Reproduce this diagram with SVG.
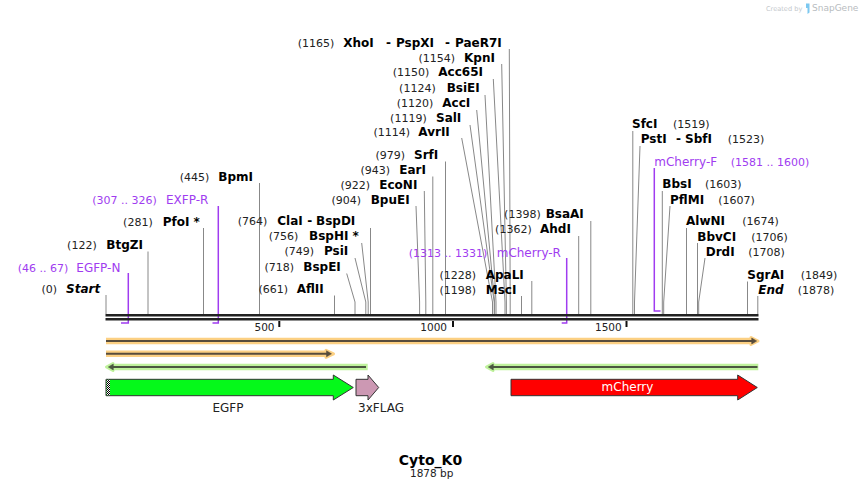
<svg xmlns="http://www.w3.org/2000/svg" width="864" height="490" viewBox="0 0 864 490">
<defs>
<style>
text{font-family:"DejaVu Sans",Verdana,sans-serif}
.n{font-size:11px;fill:#222;text-anchor:end}
.ns{font-size:11px;fill:#222}
.e{font-size:12px;font-weight:bold;fill:#000}
.i{font-style:italic}
.p{font-size:12px;fill:#a03cf0}
.pn{font-size:11px;fill:#a03cf0;text-anchor:end}
.pns{font-size:11px;fill:#a03cf0}
.cut{stroke:#888;stroke-width:1;fill:none}
.pr{stroke:#a03cf0;stroke-width:1.5;fill:none}
.bb{stroke:#222;stroke-width:2.5}
.tick{stroke:#111;stroke-width:2}
.tl{font-size:10.5px;fill:#222;text-anchor:end}
.hlo{stroke:#fcd083;fill:#fcd083}
.hlg{stroke:#bff29c;fill:#bff29c}
.dk{stroke:#574c3c;fill:#574c3c}
.dkg{stroke:#4b5740;fill:#4b5740}
.feat{stroke:#333;stroke-width:1}
.fl{font-size:12px;fill:#222;text-anchor:middle}
</style>
<pattern id="hatch" width="2" height="2" patternUnits="userSpaceOnUse">
<rect width="2" height="2" fill="#fff"/>
<rect width="1" height="1" fill="#000"/>
<rect x="1" y="1" width="1" height="1" fill="#000"/>
</pattern>
</defs>
<rect width="864" height="490" fill="#fff"/>

<g id="watermark">
<text x="766" y="10.5" style="font-size:6.6px;fill:#c4c8cc">Created by</text>
<path d="M806,3.5 h3.5 v9 l-2,1.5 v-6 h-1.5 z" fill="#7cc8f0"/>
<text x="812" y="11" style="font-size:9px;fill:#b8bcc0">SnapGene</text>
</g>

<g id="connectors">
<path class="cut" d="M106,295 V314"/>
<path class="cut" d="M148,251.5 V314"/>
<path class="cut" d="M203.5,228 V314"/>
<path class="cut" d="M259.5,183 V314"/>
<path class="cut" d="M334.5,295.5 V314"/>
<path class="cut" d="M346.7,273.5 L355,302 V314"/>
<path class="cut" d="M355,258 L365.8,302 V314"/>
<path class="cut" d="M361.7,243 L368.2,302 V314"/>
<path class="cut" d="M370.5,228 V314"/>
<path class="cut" d="M416,206 L419.6,302 V314"/>
<path class="cut" d="M424.3,191 L425.8,302 V314"/>
<path class="cut" d="M432.8,176.5 V314"/>
<path class="cut" d="M445.5,161.5 V314"/>
<path class="cut" d="M461.7,138 L492.5,302 V314"/>
<path class="cut" d="M470,125 L494.2,302 V314"/>
<path class="cut" d="M476.7,110 L494.6,302 V314"/>
<path class="cut" d="M485,95 L496,302 V314"/>
<path class="cut" d="M493.3,79 L505,302 V314"/>
<path class="cut" d="M501.7,64 L506.4,302 V314"/>
<path class="cut" d="M509.3,49 L510.2,302 V314"/>
<path class="cut" d="M521.5,296 V314"/>
<path class="cut" d="M531.8,281 V314"/>
<path class="cut" d="M578.7,236 V314"/>
<path class="cut" d="M590.8,221 V314"/>
<path class="cut" d="M632.8,131 V314"/>
<path class="cut" d="M640,146 L634.5,302 V314"/>
<path class="cut" d="M662.3,191 V314"/>
<path class="cut" d="M670,206 L663.7,302 V314"/>
<path class="cut" d="M686.5,228 V314"/>
<path class="cut" d="M697.5,243 V314"/>
<path class="cut" d="M705,258 L698.7,302 V314"/>
<path class="cut" d="M747.5,281.5 V314"/>
<path class="cut" d="M757.8,296 V314"/>
<path class="pr" d="M128.3,273 V323 H121"/>
<path class="pr" d="M218.3,206 V323 H212.5"/>
<path class="pr" d="M566.7,258 V323 H561.7"/>
<path class="pr" d="M654.3,168 V311 H660.5"/>
</g>

<g id="backbone">
<line class="bb" x1="105.5" y1="315.3" x2="758.5" y2="315.3"/>
<line class="bb" x1="105.5" y1="319.3" x2="758.5" y2="319.3"/>
<line class="tick" x1="279.3" y1="321" x2="279.3" y2="327"/>
<line class="tick" x1="453" y1="321" x2="453" y2="327"/>
<line class="tick" x1="626.5" y1="321" x2="626.5" y2="327"/>
<text class="tl" x="274.5" y="331">500</text>
<text class="tl" x="447" y="331">1000</text>
<text class="tl" x="621.7" y="331">1500</text>
</g>

<g id="site-Start"><text class="ns" x="57" y="293.3" text-anchor="end">(0)</text><text class="e i" x="66" y="293.3">Start</text></g>
<g id="primer-EGFP-N"><text class="pn" x="68.3" y="271.7">(46 .. 67)</text><text class="p" x="76.3" y="271.7">EGFP-N</text></g>
<g id="site-BtgZI"><text class="n" x="96.7" y="249">(122)</text><text class="e" x="106.3" y="249">BtgZI</text></g>
<g id="site-PfoI"><text class="n" x="152.7" y="225.7">(281)</text><text class="e" x="162.7" y="225.7">PfoI *</text></g>
<g id="primer-EXFP-R"><text class="pn" x="156.7" y="204">(307 .. 326)</text><text class="p" x="166" y="204">EXFP-R</text></g>
<g id="site-BpmI"><text class="n" x="209.3" y="181">(445)</text><text class="e" x="218.3" y="181">BpmI</text></g>
<g id="site-AflII"><text class="n" x="288" y="293.3">(661)</text><text class="e" x="296.7" y="293.3">AflII</text></g>
<g id="site-BspEI"><text class="n" x="294" y="270.7">(718)</text><text class="e" x="303.3" y="270.7">BspEI</text></g>
<g id="site-PsiI"><text class="n" x="314" y="255.3">(749)</text><text class="e" x="324" y="255.3">PsiI</text></g>
<g id="site-BspHI"><text class="n" x="298.3" y="240.3">(756)</text><text class="e" x="309" y="240.3">BspHI *</text></g>
<g id="site-ClaI"><text class="n" x="267.3" y="225.3">(764)</text><text class="e" x="277.3" y="225.3">ClaI</text><text class="e" x="307.3" y="225.3">-</text><text class="e" x="316" y="225.3">BspDI</text></g>
<g id="site-BpuEI"><text class="n" x="361" y="204">(904)</text><text class="e" x="370.7" y="204">BpuEI</text></g>
<g id="site-EcoNI"><text class="n" x="370" y="189">(922)</text><text class="e" x="379.3" y="189">EcoNI</text></g>
<g id="site-EarI"><text class="n" x="390" y="174">(943)</text><text class="e" x="399.3" y="174">EarI</text></g>
<g id="site-SrfI"><text class="n" x="405" y="159">(979)</text><text class="e" x="414" y="159">SrfI</text></g>
<g id="site-AvrII"><text class="n" x="410" y="135.5">(1114)</text><text class="e" x="418.3" y="135.5">AvrII</text></g>
<g id="site-SalI"><text class="n" x="426.7" y="121.5">(1119)</text><text class="e" x="436" y="121.5">SalI</text></g>
<g id="site-AccI"><text class="n" x="433.3" y="106.5">(1120)</text><text class="e" x="442.3" y="106.5">AccI</text></g>
<g id="site-BsiEI"><text class="n" x="435.7" y="91.5">(1124)</text><text class="e" x="446.7" y="91.5">BsiEI</text></g>
<g id="site-Acc65I"><text class="n" x="429.3" y="76">(1150)</text><text class="e" x="438.3" y="76">Acc65I</text></g>
<g id="site-KpnI"><text class="n" x="455" y="61.5">(1154)</text><text class="e" x="464" y="61.5">KpnI</text></g>
<g id="site-XhoI"><text class="n" x="334.3" y="46.5">(1165)</text><text class="e" x="343.3" y="46.5">XhoI</text><text class="e" x="386" y="46.5">-</text><text class="e" x="396" y="46.5">PspXI</text><text class="e" x="445" y="46.5">-</text><text class="e" x="455" y="46.5">PaeR7I</text></g>
<g id="site-MscI"><text class="n" x="476" y="294">(1198)</text><text class="e" x="485.7" y="294">MscI</text></g>
<g id="site-ApaLI"><text class="n" x="476" y="279">(1228)</text><text class="e" x="485.7" y="279">ApaLI</text></g>
<g id="primer-mCherry-R"><text class="pn" x="487.3" y="256.5">(1313 .. 1331)</text><text class="p" x="496.7" y="256.5">mCherry-R</text></g>
<g id="site-AhdI"><text class="n" x="531.7" y="233.3">(1362)</text><text class="e" x="540" y="233.3">AhdI</text></g>
<g id="site-BsaAI"><text class="n" x="540.7" y="218.3">(1398)</text><text class="e" x="545.7" y="218.3">BsaAI</text></g>
<g id="site-SfcI"><text class="e" x="632" y="128.3">SfcI</text><text class="ns" x="673" y="128.3">(1519)</text></g>
<g id="site-PstI"><text class="e" x="640.7" y="143.3">PstI</text><text class="e" x="676" y="143.3">-</text><text class="e" x="685" y="143.3">SbfI</text><text class="ns" x="727.7" y="143.3">(1523)</text></g>
<g id="primer-mCherry-F"><text class="p" x="654.3" y="166">mCherry-F</text><text class="pns" x="730.7" y="166">(1581 .. 1600)</text></g>
<g id="site-BbsI"><text class="e" x="662.3" y="188.3">BbsI</text><text class="ns" x="705" y="188.3">(1603)</text></g>
<g id="site-PflMI"><text class="e" x="670" y="204">PflMI</text><text class="ns" x="718.3" y="204">(1607)</text></g>
<g id="site-AlwNI"><text class="e" x="686" y="225">AlwNI</text><text class="ns" x="742.3" y="225">(1674)</text></g>
<g id="site-BbvCI"><text class="e" x="697.3" y="240.7">BbvCI</text><text class="ns" x="751.3" y="240.7">(1706)</text></g>
<g id="site-DrdI"><text class="e" x="705.7" y="255.7">DrdI</text><text class="ns" x="748.3" y="255.7">(1708)</text></g>
<g id="site-SgrAI"><text class="e" x="747.3" y="279">SgrAI</text><text class="ns" x="800.7" y="279">(1849)</text></g>
<g id="site-End"><text class="e i" x="758.3" y="294">End</text><text class="ns" x="797.7" y="294">(1878)</text></g>

<g id="orf-long">
<path class="hlo" d="M106,341 H753" stroke-width="6.6"/>
<polygon class="hlo" points="751,337.5 758,341 751,344.5" stroke-width="3" stroke-linejoin="round"/>
<path class="dk" d="M106,341 H752" stroke-width="2"/>
<polygon class="dk" points="751.7,338 756.7,341 751.7,344" stroke-width="0.5"/>
</g>
<g id="orf-short">
<path class="hlo" d="M106,353.8 H328" stroke-width="6.6"/>
<polygon class="hlo" points="326,350.3 333.5,353.8 326,357.3" stroke-width="3" stroke-linejoin="round"/>
<path class="dk" d="M106,353.8 H327" stroke-width="2"/>
<polygon class="dk" points="326.5,350.8 331.5,353.8 326.5,356.8" stroke-width="0.5"/>
</g>
<g id="orf-rev-1">
<path class="hlg" d="M111,367 H367.7" stroke-width="6.6"/>
<polygon class="hlg" points="113,363.5 106.5,367 113,370.5" stroke-width="3" stroke-linejoin="round"/>
<path class="dkg" d="M112,367 H366" stroke-width="2"/>
<polygon class="dkg" points="113.3,364 108.3,367 113.3,370" stroke-width="0.5"/>
</g>
<g id="orf-rev-2">
<path class="hlg" d="M491,367 H758.3" stroke-width="6.6"/>
<polygon class="hlg" points="493,363.5 486.5,367 493,370.5" stroke-width="3" stroke-linejoin="round"/>
<path class="dkg" d="M492,367 H757.5" stroke-width="2"/>
<polygon class="dkg" points="493.3,364 488.3,367 493.3,370" stroke-width="0.5"/>
</g>

<g id="feature-EGFP">
<polygon class="feat" fill="#05f91a" points="106,379.3 333.3,379.3 333.3,375 353.3,387.5 333.3,400 333.3,395.7 106,395.7"/>
<rect x="106.5" y="379.8" width="3.5" height="15.4" fill="url(#hatch)"/>
<text class="fl" x="228" y="412.3">EGFP</text>
</g>
<g id="feature-3xFLAG">
<polygon class="feat" fill="#cc98b3" points="356,379.3 368,379.3 368,375 378.7,387.5 368,400 368,395.7 356,395.7"/>
<text class="fl" x="381" y="412.3">3xFLAG</text>
</g>
<g id="feature-mCherry">
<polygon class="feat" fill="#ff0000" points="511,379.3 737.7,379.3 737.7,375 757.3,387.5 737.7,400 737.7,395.7 511,395.7"/>
<text x="627.5" y="391" style="font-size:12px;fill:#fff;text-anchor:middle">mCherry</text>
</g>

<g id="title">
<text x="430.5" y="465" style="font-size:14px;font-weight:bold;fill:#000;text-anchor:middle">Cyto_K0</text>
<text x="431.7" y="476.7" style="font-size:10.5px;fill:#222;text-anchor:middle">1878 bp</text>
</g>
</svg>
